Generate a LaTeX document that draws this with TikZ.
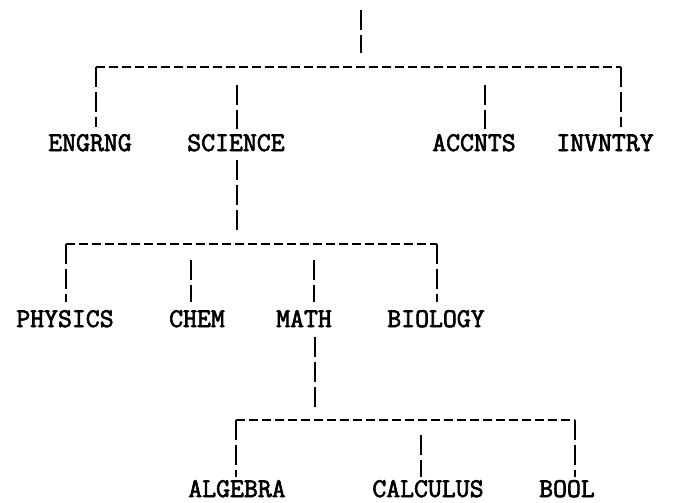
\documentclass[tikz,border=0pt]{standalone}
\usepackage{fontspec}
\newfontfamily\typew[FakeBold=2.5]{Latin Modern Mono}
\begin{document}
\begin{tikzpicture}[x=1pt,y=-1pt,
  lbl/.style={font=\typew\fontsize{27}{27}\selectfont,inner sep=0pt,anchor=base},
  hbar/.style={line width=2.8pt,dash pattern=on 9pt off 4pt},
  vl/.style={line width=2.8pt,dash pattern=on 20pt off 5pt}]
\useasboundingbox (0,0) rectangle (694,503);
% labels
\node[lbl] (engrng) at (90,151) {ENGRNG};
\node[lbl] (science) at (236,151) {SCIENCE};
\node[lbl] (accnts) at (474,151) {ACCNTS};
\node[lbl] (invntry) at (605,151) {INVNTRY};
\node[lbl] (physics) at (65,327) {PHYSICS};
\node[lbl] (chem) at (197,327) {CHEM};
\node[lbl] (math) at (304,327) {MATH};
\node[lbl] (biology) at (436,327) {BIOLOGY};
\node[lbl] (algebra) at (237,497) {ALGEBRA};
\node[lbl] (calculus) at (428,497) {CALCULUS};
\node[lbl] (bool) at (567,497) {BOOL};
% level 0
\coordinate (root) at (361,10);
\coordinate (rootend) at (361,53);
\coordinate (b1l) at (96,67);
\coordinate (b1r) at (621,67);
\draw[vl] (root) -- (rootend);
\draw[hbar] (b1l) -- (b1r);
\draw[vl] (b1l) -- (96,127);
\draw[vl] (b1r) -- (621,127);
\draw[vl] (237,85) -- (237,129);
\draw[vl] (485,85) -- (485,129);
% level 1 -> 2
\draw[vl] (237,160) -- (237,232);
\coordinate (b2l) at (66,244);
\coordinate (b2r) at (437,244);
\draw[hbar] (b2l) -- (b2r);
\draw[vl] (b2l) -- (66,302);
\draw[vl] (b2r) -- (437,302);
\draw[vl] (191,260) -- (191,302);
\draw[vl] (314,260) -- (314,302);
% level 2 -> 3
\draw[vl] (315,337) -- (315,408);
\coordinate (b3l) at (236,420);
\coordinate (b3r) at (575,420);
\draw[hbar] (b3l) -- (b3r);
\draw[vl] (b3l) -- (236,477);
\draw[vl] (b3r) -- (575,477);
\draw[vl] (421,435) -- (421,477);
\end{tikzpicture}
\end{document}
